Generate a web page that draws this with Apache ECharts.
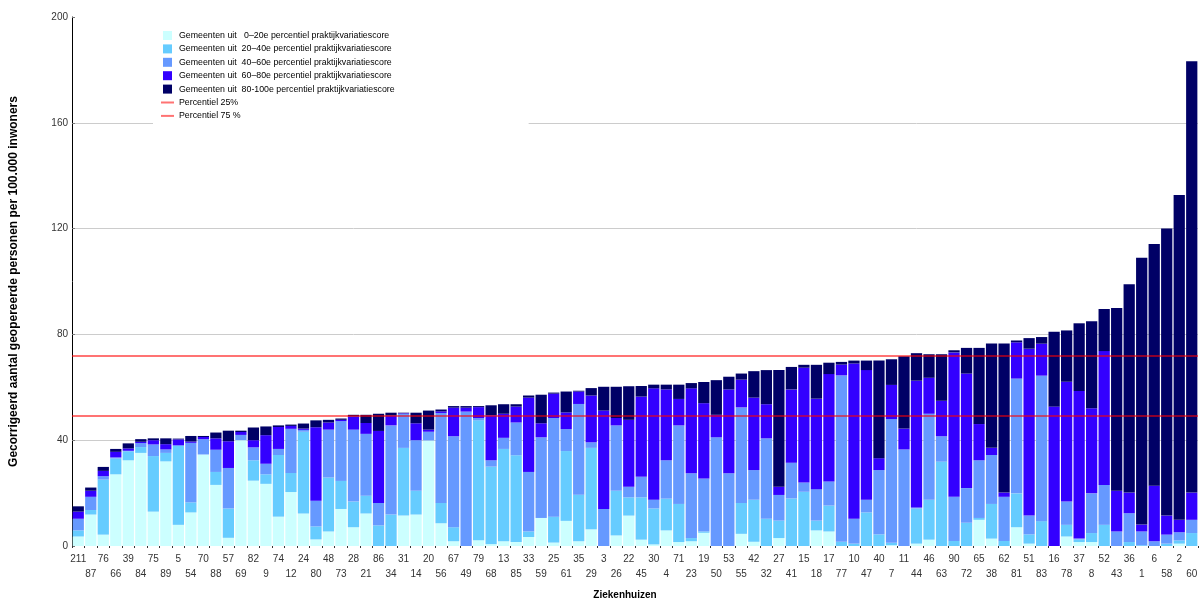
<!DOCTYPE html>
<html>
<head>
<meta charset="utf-8">
<script src="https://cdn.jsdelivr.net/npm/echarts@6/dist/echarts.min.js"></script>
<style>
html,body{margin:0;padding:0;background:#fff;overflow:hidden;}
#chart{position:absolute;left:0;top:0;width:1204px;height:605px;}
</style>
</head>
<body>
<div id="chart"></div>
<script>
const categories = ['211','87','76','66','39','84','75','89','5','54','70','88','57','69','82','9','74','12','24','80','48','73','28','21','86','34','31','14','20','56','67','49','79','68','13','85','33','59','25','61','35','29','3','26','22','45','30','4','71','23','19','50','53','55','42','32','27','41','15','18','17','77','10','47','40','7','11','44','46','63','90','72','65','38','62','81','51','83','16','78','37','8','52','43','36','1','6','58','2','60'];

const p0_20 = [3.6,11.9,4.3,27.1,32.4,35.2,13.0,32.0,8.0,12.7,34.6,23.1,3.1,40.0,24.7,23.5,11.1,20.4,12.3,2.5,5.5,14.0,7.1,12.3,0,0,11.5,11.9,39.9,8.6,1.8,0,2.2,0.7,1.8,1.5,3.4,10.6,1.3,9.5,1.8,6.3,0,4.0,11.5,2.4,0.6,5.9,1.5,1.8,5.0,0,0,4.6,1.6,0,3.0,0,0,5.9,5.5,0,0,0,0,0.3,0,0.9,2.4,0,0,0,9.9,2.8,0,7.1,0.9,0,0,3.6,1.5,1.5,0,0,0,0,0,0,0.9,0];
const p20_40 = [2.3,1.7,20.8,6.0,3.4,2.2,21.0,3.2,29.8,3.8,0,4.9,11.1,0,7.7,3.6,23.3,7.2,30.9,4.9,20.4,10.6,9.7,6.7,7.8,11.9,25.6,9.0,0,7.7,5.3,0,45.3,29.3,34.9,32.8,2.1,0,9.8,26.4,17.6,30.8,0,16.9,6.9,16.0,13.6,12.0,14.4,1.2,0.5,0,0,11.7,15.9,10.3,6.6,18.0,20.5,3.7,9.8,1.6,0.9,12.7,4.4,0.9,0,13.3,15.1,31.9,1.9,8.8,0.7,13.1,1.9,12.8,3.5,9.4,0,4.4,1.0,3.4,8.0,0,1.5,0.3,0,0.9,1.2,4.9];
const p40_60 = [4.4,5.0,1.3,0.4,0.2,1.5,4.4,1.3,0.3,22.5,5.8,8.4,15.3,2.0,4.9,4.0,2.3,16.7,0.7,9.7,18.1,22.6,27.2,23.4,8.5,33.7,12.9,19.1,3.3,34.0,34.4,50.8,0.9,2.4,4.2,12.4,22.5,30.5,37.3,8.3,34.3,2.1,14.0,24.7,4.0,7.8,3.3,14.5,29.7,24.5,20.0,41.1,27.5,36.1,11.2,30.4,9.7,13.5,3.5,11.9,9.1,62.9,9.4,4.8,24.3,46.8,36.5,0.4,32.5,9.6,16.7,13.1,21.8,18.5,16.7,43.4,7.1,55.0,0,8.8,0.3,15.0,15.1,5.5,10.9,5.2,1.8,3.4,3.1,5.0];
const p60_80 = [2.7,2.3,2.0,2.1,0.9,0.5,1.6,2.0,2.2,0.5,0.8,4.3,10.1,1.1,2.7,10.8,8.3,1.1,0.5,27.8,2.7,0.5,5.0,4.1,27.2,3.7,0.2,6.4,0.8,0.6,10.8,1.5,4.1,17.0,9.1,6.0,28.1,5.3,9.2,6.3,4.7,17.7,37.2,2.8,25.3,30.3,42.1,26.8,10.0,32.1,28.5,8.5,31.7,10.5,27.4,12.9,3.1,27.7,43.4,34.2,40.6,4.1,58.7,49.0,4.5,12.9,7.9,47.9,13.6,13.4,54.6,43.3,13.7,2.7,1.6,13.7,63.1,12.1,52.7,45.3,55.8,32.2,50.6,15.4,7.8,2.6,21.0,7.2,4.7,10.3];
const p80_100 = [2.0,1.2,1.5,1.1,1.9,1.0,0.7,2.2,0.3,2.1,0.4,2.2,4.0,0.5,4.8,3.3,0.6,0.5,1.9,2.6,1.0,0.5,0.6,3.1,6.5,1.1,0.2,4.0,7.2,0.7,0.6,0.6,0.4,3.8,3.6,0.9,0.8,10.8,0.4,7.9,0.3,2.8,9.0,11.8,12.7,4.0,1.4,1.8,5.4,2.0,8.0,13.1,4.8,2.3,10.0,12.9,44.1,8.5,1.1,12.8,4.3,1.0,1.1,3.6,36.9,9.7,27.3,10.4,8.9,17.6,0.8,9.7,28.8,39.5,56.4,0.7,4.0,2.5,28.3,19.4,25.6,32.9,15.9,69.1,78.8,100.9,91.4,108.5,122.8,163.1];

const percentile25 = 49.1;
const percentile75 = 72.0;

const yTicks = [0, 40, 80, 120, 160, 200];

const seriesNames = [
  'Gemeenten uit   0\u201320e percentiel praktijkvariatiescore',
  'Gemeenten uit  20\u201340e percentiel praktijkvariatiescore',
  'Gemeenten uit  40\u201360e percentiel praktijkvariatiescore',
  'Gemeenten uit  60\u201380e percentiel praktijkvariatiescore',
  'Gemeenten uit  80-100e percentiel praktijkvariatiescore'
];
const lineNames = ['Percentiel 25%', 'Percentiel 75 %'];
const colors = ['#ccffff', '#66ccff', '#6699ff', '#3300ff', '#000066'];
const redLine = 'rgba(255,0,0,0.55)';
const FONT = 'Liberation Sans';

const values = [p0_20, p20_40, p40_60, p60_80, p80_100];

const chart = echarts.init(document.getElementById('chart'), null, {renderer: 'canvas'});

const barSeries = values.map((arr, i) => ({
  name: seriesNames[i],
  type: 'bar',
  stack: 'total',
  barCategoryGap: '10%',
  data: arr,
  itemStyle: {color: colors[i]},
  emphasis: {disabled: true},
  animation: false
}));

const lineSeries = [percentile25, percentile75].map((v, i) => ({
  name: lineNames[i],
  type: 'line',
  data: [],
  color: redLine,
  symbol: 'none',
  animation: false,
  markLine: {
    silent: true,
    symbol: 'none',
    label: {show: false},
    lineStyle: {color: redLine, width: 2, type: 'solid'},
    data: [{yAxis: v}],
    animation: false
  }
}));

const sq = 'path://M0,0h9v9h-9z';
const ln = 'path://M0,0h13v2h-13z';

chart.setOption({
  animation: false,
  grid: {left: 72, width: 1126, top: 17, height: 534, containLabel: false},
  legend: {
    orient: 'vertical',
    left: 153,
    top: 25,
    backgroundColor: '#fff',
    padding: [6, 134, 6, 8],
    itemWidth: 13,
    itemHeight: 9,
    itemGap: 4.4,
    textStyle: {fontFamily: FONT, fontSize: 8.8, color: '#000'},
    data: seriesNames.map(n => ({name: n, icon: sq})).concat(lineNames.map(n => ({name: n, icon: ln}))),
    selectedMode: false
  },
  xAxis: {
    type: 'category',
    data: categories,
    name: 'Ziekenhuizen',
    nameLocation: 'middle',
    nameGap: 44,
    nameTextStyle: {fontFamily: FONT, fontSize: 10, fontWeight: 'bold', color: '#000', padding: [0, 20, 0, 0]},
    axisLine: {show: false},
    axisTick: {show: true, length: 2, lineStyle: {color: '#333'}},
    axisLabel: {
      interval: 0,
      fontFamily: FONT,
      fontSize: 10,
      color: '#333',
      margin: 6,
      lineHeight: 15,
      formatter: (v, i) => (i % 2 ? '\n' + v : v)
    }
  },
  yAxis: {
    type: 'value',
    min: yTicks[0],
    max: yTicks[yTicks.length - 1],
    interval: 40,
    name: 'Gecorrigeerd aantal geopereerde personen per 100.000 inwoners',
    nameLocation: 'middle',
    nameGap: 52,
    nameTextStyle: {fontFamily: FONT, fontSize: 12, fontWeight: 'bold', color: '#000'},
    axisLine: {show: true, lineStyle: {color: '#000', width: 1}},
    axisTick: {show: true, inside: true, length: 3, lineStyle: {color: '#777'}},
    axisLabel: {fontFamily: FONT, fontSize: 10, color: '#333', margin: 4, padding: [5, 0, 0, 0]},
    splitLine: {show: true, lineStyle: {color: ['transparent', '#cccccc', '#cccccc', '#cccccc', '#cccccc', 'transparent'], width: 1}}
  },
  series: barSeries.concat(lineSeries)
});
</script>
</body>
</html>
